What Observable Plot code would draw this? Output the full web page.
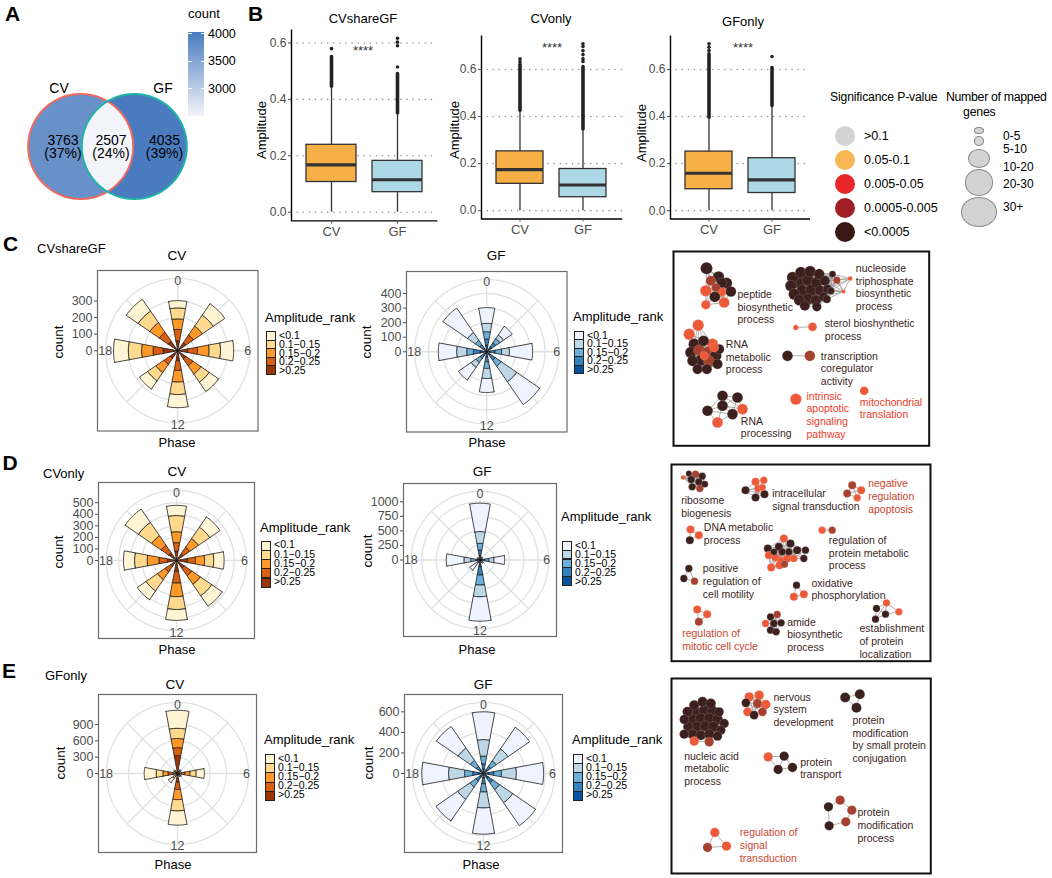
<!DOCTYPE html>
<html><head><meta charset="utf-8">
<script src="https://cdn.jsdelivr.net/npm/d3@7"></script>
<script src="https://cdn.jsdelivr.net/npm/@observablehq/plot@0.6"></script>
<style>
body{margin:0;background:#fff;}
#fig{position:relative;width:1052px;height:878px;overflow:hidden;font-family:"Liberation Sans",Arial,Helvetica,sans-serif;color:#000;background:#fff;}
.t{position:absolute;white-space:nowrap;line-height:1;}
</style></head><body><div id="fig"></div>
<script>
// ================= DATA =================
// Panel A (Venn)
const vennSets = ["CV", "GF"];
const vennCounts = [3763, 2507, 4035];          // CV only, shared, GF only
const vennPercents = ["(37%)", "(24%)", "(39%)"];
const countBarTicks = [3000, 3500, 4000];

// Panel B (boxplots of Amplitude)
const boxGroups = ["CV", "GF"];
const ampTicks = [0, 0.2, 0.4, 0.6];
const boxShare = [{group:"CV",lo:0,q1:0.107,med:0.168,q3:0.239,hi:0.44},{group:"GF",lo:0,q1:0.071,med:0.115,q3:0.182,hi:0.345}];
const boxShareDense = [{group:"CV",from:0.445,to:0.55},{group:"GF",from:0.35,to:0.49}];
const boxShareOut = [{group:"CV",v:0.58},{group:"GF",v:0.515},{group:"GF",v:0.59},{group:"GF",v:0.603},{group:"GF",v:0.617}];
const boxCVonly = [{group:"CV",lo:0,q1:0.114,med:0.174,q3:0.252,hi:0.42},{group:"GF",lo:0,q1:0.057,med:0.109,q3:0.177,hi:0.34}];
const boxCVonlyDense = [{group:"CV",from:0.425,to:0.62},{group:"GF",from:0.345,to:0.61}];
const boxCVonlyOut = [{group:"CV",v:0.633},{group:"CV",v:0.645},{group:"GF",v:0.634},{group:"GF",v:0.645},{group:"GF",v:0.663},{group:"GF",v:0.68},{group:"GF",v:0.698},{group:"GF",v:0.709}];
const boxGFonly = [{group:"CV",lo:0,q1:0.091,med:0.159,q3:0.251,hi:0.39},{group:"GF",lo:0,q1:0.075,med:0.131,q3:0.223,hi:0.44}];
const boxGFonlyDense = [{group:"CV",from:0.395,to:0.665},{group:"GF",from:0.445,to:0.606}];
const boxGFonlyOut = [{group:"CV",v:0.68},{group:"CV",v:0.695},{group:"CV",v:0.709},{group:"GF",v:0.655}];

// Rose charts: counts per phase (rows) and amplitude rank (inner -> outer)
const phases = [0, 3, 6, 9, 12, 15, 18, 21];
const ampRanks = [">0.25", "0.2\u22120.25", "0.15\u22120.2", "0.1\u22120.15", "<0.1"];
const roseC_CV = [[60,69,63,66,44],[60,55,65,80,84],[60,59,70,69,79],[60,50,60,60,68],[60,59,70,75,79],[55,45,60,60,60],[89,60,69,80,89],[70,65,70,85,87]];
const roseC_GF = [[46,41,51,57,108],[40,35,35,30,72],[23,34,46,53,159],[30,40,50,130,191],[34,35,46,69,96],[25,30,35,40,106],[46,46,46,69,126],[30,30,35,65,204]];
const roseD_CV = [[82,73,94,140,88],[70,70,90,120,107],[96,68,79,79,90],[80,80,90,120,110],[94,102,117,111,94],[60,60,80,120,92],[79,73,102,109,96],[80,80,100,140,140]];
const roseD_GF = [[86,86,115,202,488],[10,10,10,10,20],[40,46,69,86,184],[10,10,10,15,25],[115,144,172,201,420],[15,15,20,20,145],[40,35,86,115,304],[10,10,10,10,15]];
const roseE_CV = [[331,144,169,187,331],[25,15,15,15,10],[75,62,94,113,150],[20,15,15,15,15],[156,138,187,207,262],[20,20,30,40,96],[81,94,94,125,218],[20,15,15,15,15]];
const roseE_GF = [[45,50,75,160,270],[40,45,65,140,255],[50,50,75,145,265],[55,55,80,155,270],[45,55,80,155,255],[40,50,70,145,255],[50,55,80,155,260],[40,45,70,145,255]];
const ticksC_CV = [0,100,200,300];
const ticksC_GF = [0,100,200,300,400];
const ticksD_CV = [0,100,200,300,400,500];
const ticksD_GF = [0,250,500,750,1000];
const ticksE_CV = [0,300,600,900];
const ticksE_GF = [0,200,400,600];
const thetaTicks = [0, 6, 12, 18];

// Significance legend
const sigLevels = [">0.1", "0.05-0.1", "0.005-0.05", "0.0005-0.005", "<0.0005"];
const sigColors = ["#D3D3D3", "#F8B655", "#E8262A", "#A01F24", "#3A1614"];
const sizeLevels = ["0-5", "5-10", "10-20", "20-30", "30+"];

// Networks: nodes [x, y, diameter, p-class] in layout units, grouped by cluster
const netC = [
 [[137,82,36,"n"],[173,108,34,"n"],[197,127,34,"n"],[210,152,32,"n"],[150,120,30,"m"],[183,126,30,"n"],[135,150,34,"r"],[180,152,32,"r"],[162,168,32,"n"],[190,185,32,"r"],[135,192,28,"r"],[165,140,26,"m"]],
 [[395,110,34,"n"],[420,95,34,"n"],[448,92,34,"n"],[475,100,32,"n"],[390,135,34,"n"],[415,125,36,"n"],[442,118,36,"n"],[468,125,34,"n"],[492,120,30,"n"],[400,160,34,"n"],[425,150,36,"n"],[452,148,36,"n"],[478,150,32,"n"],[500,145,28,"n"],[415,178,32,"n"],[440,175,34,"n"],[465,178,32,"n"],[488,168,28,"n"],[432,195,30,"n"],[468,198,28,"n"],[510,150,22,"n"],[515,100,20,"n"],[528,118,22,"m"],[568,113,14,"r"],[548,152,12,"r"],[498,175,24,"n"]],
 [[405,260,16,"r"],[455,258,26,"r"]],
 [[380,345,32,"n"],[447,345,32,"m"]],
 [[112,253,34,"r"],[85,280,34,"r"],[100,310,34,"n"],[128,300,32,"n"],[155,310,34,"r"],[175,325,30,"n"],[90,335,34,"n"],[115,328,34,"m"],[140,335,34,"m"],[165,345,34,"n"],[95,360,32,"n"],[120,358,34,"n"],[145,362,34,"m"],[170,370,30,"n"],[110,385,30,"n"],[138,385,30,"n"],[160,320,28,"r"],[130,345,26,"r"]],
 [[185,465,32,"n"],[230,470,32,"n"],[185,495,32,"n"],[140,510,32,"n"],[215,520,32,"n"],[245,505,32,"r"],[170,545,32,"r"]],
 [[405,475,34,"r"]],
 [[610,450,26,"r"]]
];
const netC_labels = [
 [230,160,"peptide\nbiosynthetic\nprocess","d"],
 [585,82,"nucleoside\ntriphosphate\nbiosynthetic\nprocess","d"],
 [492,248,"sterol bioshynthetic\nprocess","d"],
 [195,310,"RNA\nmetabolic\nprocess","d"],
 [480,345,"transcription\ncoregulator\nactivity","d"],
 [240,540,"RNA\nprocessing","d"],
 [437,465,"intrinsic\napoptotic\nsignaling\npathway","r"],
 [597,483,"mitochondrial\ntranslation","r"]
];
const netD = [
 [[68,82,14,"r"],[85,70,18,"n"],[105,72,22,"m"],[125,78,22,"n"],[92,88,22,"n"],[115,95,22,"n"],[133,102,20,"n"],[95,110,22,"n"],[118,115,22,"m"]],
 [[255,120,24,"n"],[285,95,24,"r"],[310,90,22,"r"],[292,115,22,"r"],[306,112,20,"r"],[312,132,24,"n"],[285,142,24,"n"]],
 [[575,105,24,"m"],[560,130,24,"m"],[602,120,24,"r"],[590,143,22,"r"]],
 [[90,238,24,"r"],[115,255,24,"r"],[88,270,24,"n"]],
 [[485,240,22,"r"],[515,240,22,"m"]],
 [[370,265,24,"r"],[322,295,24,"n"],[355,290,24,"n"],[390,280,24,"n"],[410,300,24,"n"],[435,300,22,"n"],[430,325,22,"n"],[325,315,24,"r"],[345,322,24,"r"],[362,332,24,"r"],[380,325,24,"r"],[400,325,22,"r"],[332,352,24,"r"],[357,345,24,"r"],[372,342,22,"m"],[385,305,22,"n"],[365,305,22,"n"],[340,305,20,"n"]],
 [[85,355,22,"n"],[70,385,22,"n"],[102,393,22,"m"]],
 [[408,405,22,"n"],[400,440,24,"r"],[430,432,24,"r"]],
 [[110,478,24,"r"],[140,492,24,"r"],[115,515,24,"m"]],
 [[330,500,22,"n"],[350,493,22,"m"],[315,520,22,"r"],[340,520,22,"n"],[362,518,22,"n"],[330,540,22,"n"],[347,545,22,"n"]],
 [[648,475,22,"n"],[678,458,22,"r"],[675,492,22,"n"],[715,485,22,"r"],[645,507,22,"n"]]
];
const netD_labels = [
 [62,150,"ribosome\nbiogenesis","d"],
 [335,130,"intracellular\nsignal transduction","d"],
 [623,100,"negative\nregulation\napoptosis","r"],
 [130,232,"DNA metabolic\nprocess","d"],
 [505,270,"regulation of\nprotein metabolic\nprocess","d"],
 [127,355,"positive\nregulation of\ncell motility","d"],
 [453,398,"oxidative\nphosphorylation","d"],
 [65,550,"regulation of\nmitotic cell cycle","r"],
 [380,515,"amide\nbiosynthetic\nprocess","d"],
 [597,535,"establishment\nof protein\nlocalization","d"]
];
const netE = [
 [[100,135,30,"n"],[125,125,30,"n"],[150,130,30,"n"],[80,155,30,"n"],[105,155,32,"n"],[130,150,32,"n"],[155,152,32,"n"],[175,155,28,"n"],[70,178,28,"n"],[95,178,32,"n"],[120,175,32,"n"],[145,175,32,"n"],[170,178,32,"n"],[190,190,28,"n"],[82,200,30,"n"],[108,200,32,"n"],[133,198,32,"n"],[158,200,32,"n"],[180,210,28,"n"],[70,222,28,"n"],[95,222,30,"n"],[120,225,30,"n"],[145,222,30,"n"],[170,228,28,"n"],[100,243,28,"r"],[145,245,28,"m"]],
 [[265,110,28,"r"],[295,105,28,"r"],[255,128,26,"n"],[290,130,28,"m"],[315,133,28,"r"],[260,155,26,"r"],[280,165,26,"n"],[305,155,26,"m"]],
 [[553,112,30,"n"],[597,102,30,"n"],[587,143,30,"n"]],
 [[322,290,28,"r"],[370,288,28,"n"],[352,328,28,"n"],[395,322,28,"n"]],
 [[503,440,28,"n"],[538,420,28,"m"],[573,450,28,"m"],[555,485,28,"m"],[505,497,28,"n"]],
 [[162,517,28,"r"],[140,562,28,"m"],[197,558,28,"r"]]
];
const netE_labels = [
 [70,287,"nucleic acid\nmetabolic\nprocess","d"],
 [338,110,"nervous\nsystem\ndevelopment","d"],
 [575,180,"protein\nmodification\nby small protein\nconjugation","d"],
 [418,305,"protein\ntransport","d"],
 [590,457,"protein\nmodification\nprocess","d"],
 [237,517,"regulation of\nsignal\ntransduction","r"]
];

// ================= STYLE =================
const orangePal = ["#993404","#D95F0E","#FE9929","#FED98E","#FFF5D4"]; // inner(>0.25) -> outer(<0.1)
const bluePal = ["#08519C","#3182BD","#6BAED6","#BDD7E7","#EFF3FF"];
const nodeColor = {n:"#3C201E", m:"#A5412F", r:"#EC5A3A"};
const style = {fontFamily:'"Liberation Sans", Arial, Helvetica, sans-serif', fontSize:"12px", background:"transparent", overflow:"visible", color:"#000"};

const fig = document.getElementById("fig");
function place(node, x, y){ const d=document.createElement("div"); d.style.cssText=`position:absolute;left:${x}px;top:${y}px;`; d.appendChild(node); fig.appendChild(d); }
const later = [];
function txt(s, x, y, o={}){
  later.push(()=>{
    const d=document.createElement("div"); d.className="t"; d.textContent=s;
    d.style.fontSize=(o.size||13)+"px"; if(o.weight) d.style.fontWeight=o.weight;
    if(o.ls) d.style.letterSpacing=o.ls+"px";
    if(o.lh) d.style.lineHeight=o.lh+"px";
    d.style.color=o.color||"#000"; d.style.left=x+"px"; d.style.top=y+"px";
    const ax=o.anchor==="start"?"0%":o.anchor==="end"?"-100%":"-50%";
    d.style.transform=`translate(${ax},-50%)`+(o.rotate?` rotate(${o.rotate}deg)`:"");
    fig.appendChild(d);
  });
}
function rect(x,y,w,h,css){ later.push(()=>{const d=document.createElement("div"); d.style.cssText=`position:absolute;left:${x}px;top:${y}px;width:${w}px;height:${h}px;box-sizing:border-box;`+css; fig.appendChild(d);}); }

// ================= PANEL A: Venn =================
{
  const vennR = 1, vennSep = 1.02;
  const cL = -vennSep/2, cR = vennSep/2, alpha = Math.acos((vennSep/2)/vennR);
  const circ = (cx, v, id) => d3.range(0,181).map(k=>{const a=k/180*2*Math.PI; return {id, v, x:cx+vennR*Math.cos(a), y:vennR*Math.sin(a)};});
  const lens = [];
  d3.range(0,61).forEach(k=>{const a=-alpha+2*alpha*k/60; lens.push({id:"lens", v:vennCounts[1], x:cL+Math.cos(a), y:Math.sin(a)});});
  d3.range(0,61).forEach(k=>{const a=Math.PI-alpha+2*alpha*k/60; lens.push({id:"lens", v:vennCounts[1], x:cR+Math.cos(a), y:Math.sin(a)});});
  const left = circ(cL, vennCounts[0], "L"), right = circ(cR, vennCounts[2], "R");
  const W = 172, H = 120, unit = 52.5;
  const p = Plot.plot({
    width:W, height:H, margin:0,
    x:{domain:[-W/2/unit, W/2/unit], axis:null}, y:{domain:[-H/2/unit, H/2/unit], axis:null},
    color:{type:"linear", domain:[vennCounts[1], vennCounts[2]], range:["#F3F5FA","#4A7BBF"], interpolate:"rgb"},
    style,
    marks:[
      Plot.line([...left, ...right, ...lens], {x:"x", y:"y", z:"id", fill:"v", stroke:"none"}),
      Plot.line(left, {x:"x", y:"y", stroke:"#F0695C", strokeWidth:2}),
      Plot.line(right, {x:"x", y:"y", stroke:"#1DB3A6", strokeWidth:2})
    ]
  });
  place(p, 21, 86);
  txt("CV", 59, 88, {size:14}); txt("GF", 163, 88, {size:14});
  const tx = [63, 111, 164.5];
  vennCounts.forEach((c,i)=>{ txt(String(c), tx[i], 140, {size:14}); txt(vennPercents[i], tx[i], 153, {size:14}); });
  // colorbar
  const barTop = 32, barH = 84, barX = 188, barW = 16;
  const yb = d3.scaleLinear().domain([vennCounts[1], vennCounts[2]]).range([barTop+barH, barTop]);
  rect(barX, barTop, barW, barH, "background:linear-gradient(to top,#F3F5FA,#4A7BBF);");
  countBarTicks.forEach(t=>{
    rect(barX, yb(t)-0.5, 3.5, 1, "background:#fff;");
    rect(barX+barW-3.5, yb(t)-0.5, 3.5, 1, "background:#fff;");
    txt(String(t), barX+20, yb(t), {size:12.5, anchor:"start"});
  });
  txt("count", 188, 13, {size:13, anchor:"start"});
}

// ================= PANEL B: boxplots =================
function boxPlot(stats, dense, outs, pw, ph){
  const vals = [...stats.flatMap(d=>[d.lo,d.hi]), ...dense.map(d=>d.to), ...outs.map(d=>d.v)];
  const [lo, hi] = d3.extent(vals); const pad = 0.05*(hi-lo);
  const ml=30, mr=4, mt=4, mb=22;
  return Plot.plot({
    width:pw+ml+mr, height:ph+mt+mb, marginLeft:ml, marginRight:mr, marginTop:mt, marginBottom:mb,
    x:{type:"band", domain:boxGroups, paddingInner:0.25, paddingOuter:0.225},
    y:{domain:[lo-pad, hi+pad]},
    color:{domain:boxGroups, range:["#F6B046","#ADD8E6"]},
    style,
    marks:[
      Plot.gridY(ampTicks, {stroke:"#9a9a9a", strokeOpacity:1, strokeWidth:1.6, strokeDasharray:"0.1,6", strokeLinecap:"round"}),
      Plot.frame({stroke:"#000", strokeWidth:1.4, strokeDasharray:`0,${pw+ph},${pw+ph}`}),
      Plot.ruleX(stats, {x:"group", y1:"lo", y2:"hi", stroke:"#333", strokeWidth:1.3}),
      Plot.barY(stats, {x:"group", y1:"q1", y2:"q3", fill:"group", stroke:"#333", strokeWidth:1.3}),
      Plot.tickY(stats, {x:"group", y:"med", stroke:"#333", strokeWidth:3.2}),
      Plot.ruleX(dense, {x:"group", y1:"from", y2:"to", stroke:"#222", strokeWidth:3.6, strokeLinecap:"round"}),
      Plot.dot(outs, {x:"group", y:"v", r:1.8, fill:"#222"}),
      Plot.axisY(ampTicks, {tickSize:3, tickPadding:2, fontSize:12, tickFormat:d3.format(".1f"), label:null, color:"#4D4D4D"}),
      Plot.axisX({tickSize:3, tickPadding:3, fontSize:13, label:null, color:"#4D4D4D"})
    ]
  });
}
place(boxPlot(boxShare, boxShareDense, boxShareOut, 146, 191.4), 291-30, 29.3-4);
place(boxPlot(boxCVonly, boxCVonlyDense, boxCVonlyOut, 140.7, 183.5), 481-30, 34.8-4);
place(boxPlot(boxGFonly, boxGFonlyDense, boxGFonlyOut, 139.5, 183.5), 670-30, 34.8-4);
txt("CVshareGF", 363, 18, {size:13}); txt("CVonly", 551, 18, {size:13}); txt("GFonly", 743, 21, {size:13});
txt("****", 363, 50, {size:13, color:"#333"}); txt("****", 552, 47, {size:13, color:"#333"}); txt("****", 743, 47, {size:13, color:"#333"});
txt("Amplitude", 261, 130, {size:13, rotate:-90}); txt("Amplitude", 454, 130, {size:13, rotate:-90}); txt("Amplitude", 641, 133, {size:13, rotate:-90});

// Significance / size legend
txt("Significance P-value", 830, 97, {size:12.2, anchor:"start", ls:-0.15});
txt("Number of mapped", 946, 97, {size:12.3, anchor:"start", ls:-0.3});
txt("genes", 963, 111.5, {size:12.3, anchor:"start", ls:-0.2});
const sigY = [136, 160, 183.5, 207.5, 231.5];
sigLevels.forEach((s,i)=>{ rect(835, sigY[i]-10, 20, 20, `border-radius:50%;background:${sigColors[i]};`); txt(s, 864, sigY[i], {size:12.5, anchor:"start"}); });
const sizeEll = [[130.7,4.7,3.7],[141,5.3,4.7],[158.3,10.7,9.3],[182.7,14.3,13.3],[211.7,18.3,15]];
sizeEll.forEach(([cy,rx,ry])=>rect(979-rx, cy-ry, 2*rx, 2*ry, "border-radius:50%;background:#D3D3D3;border:0.8px solid #8a8a8a;"));
const sizeLY = [136, 149.3, 166.7, 184.3, 206.7];
sizeLevels.forEach((s,i)=>txt(s, 1003, sizeLY[i], {size:12, anchor:"start", lh:11}));

// ================= ROSE CHARTS =================
function rosePlot(rows, ticks, pal, size){
  const R = d3.max(rows, r=>d3.sum(r));
  const E = 1.25*R, hw = 0.7;
  const polys = [];
  rows.forEach((segs,i)=>{
    let r0 = 0;
    segs.forEach((c,j)=>{
      const r1 = r0+c, id = i*10+j, n = 12;
      const a0 = (phases[i]-hw)/24*2*Math.PI, a1 = (phases[i]+hw)/24*2*Math.PI;
      const ring = [];
      for(let k=0;k<=n;k++){const a=a0+(a1-a0)*k/n; ring.push({id, rank:ampRanks[j], x:r1*Math.sin(a), y:r1*Math.cos(a)});}
      for(let k=n;k>=0;k--){const a=a0+(a1-a0)*k/n; ring.push({id, rank:ampRanks[j], x:r0*Math.sin(a), y:r0*Math.cos(a)});}
      ring.push({...ring[0]});
      polys.push(...ring);
      r0 = r1;
    });
  });
  const gridR = ticks.filter(t=>t>0).concat([1.125*R]);
  const circ = gridR.flatMap((r,gi)=>d3.range(0,121).map(k=>({gi, x:r*Math.sin(k/120*2*Math.PI), y:r*Math.cos(k/120*2*Math.PI)})));
  const spokes = phases.map(p=>({x:1.125*R*Math.sin(p/24*2*Math.PI), y:1.125*R*Math.cos(p/24*2*Math.PI)}));
  const thetaFrac = [0.432, 0.436, 0.462, 0.452];
  return Plot.plot({
    width:size+42, height:size+4, marginLeft:40, marginRight:2, marginTop:2, marginBottom:2,
    x:{domain:[-E,E], axis:null}, y:{domain:[-E,E]},
    color:{domain:ampRanks, range:pal},
    style,
    marks:[
      Plot.line(circ, {x:"x", y:"y", z:"gi", stroke:"#E1E1E1", strokeWidth:1.3}),
      Plot.link(spokes, {x1:()=>0, y1:()=>0, x2:"x", y2:"y", stroke:"#E1E1E1", strokeWidth:1.3}),
      Plot.line(polys, {x:"x", y:"y", z:"id", fill:"rank", stroke:"#1a1a1a", strokeWidth:0.8, strokeLinejoin:"miter"}),
      Plot.text(thetaTicks, {x:(p,i)=>thetaFrac[i]*2*E*Math.sin(p/24*2*Math.PI), y:(p,i)=>thetaFrac[i]*2*E*Math.cos(p/24*2*Math.PI), text:p=>String(p), fontSize:12.5, fill:"#4D4D4D"}),
      Plot.frame({stroke:"#6b6b6b", strokeWidth:1.2}),
      Plot.axisY(ticks, {anchor:"left", tickSize:3, tickPadding:2, fontSize:12.5, tickFormat:d=>String(d), label:null, color:"#4D4D4D"})
    ]
  });
}
const roseSpecs = [
  {rows:roseC_CV, ticks:ticksC_CV, pal:orangePal, left:97,    top:270,   size:160.5, title:"CV", tx:177, ty:256, cx:59,  cy:342, px:177, py:442, lx:265, ly:317, kt:331,   kh:8.6},
  {rows:roseC_GF, ticks:ticksC_GF, pal:bluePal,   left:406,   top:270.5, size:160.5, title:"GF", tx:496, ty:256, cx:367, cy:342, px:487, py:442, lx:573, ly:316, kt:330.7, kh:8.5},
  {rows:roseD_CV, ticks:ticksD_CV, pal:orangePal, left:97.5,  top:481.5, size:156,   title:"CV", tx:177, ty:472, cx:59,  cy:552, px:177, py:648.5, lx:260, ly:527, kt:540.7, kh:9.2},
  {rows:roseD_GF, ticks:ticksD_GF, pal:bluePal,   left:403.3, top:482.7, size:153,   title:"GF", tx:482, ty:472, cx:368, cy:551, px:477, py:648.5, lx:561, ly:516, kt:540.7, kh:8.9},
  {rows:roseE_CV, ticks:ticksE_CV, pal:orangePal, left:97.5,  top:693.5, size:158,   title:"CV", tx:175, ty:685, cx:61,  cy:763, px:173, py:864, lx:264, ly:739, kt:754,   kh:9.2},
  {rows:roseE_GF, ticks:ticksE_GF, pal:bluePal,   left:404,   top:693.5, size:158,   title:"GF", tx:483, ty:685, cx:369, cy:763, px:481, py:864, lx:572, ly:739, kt:754,   kh:9.2}
];
roseSpecs.forEach(s=>{
  place(rosePlot(s.rows, s.ticks, s.pal, s.size), s.left-40, s.top-2);
  txt(s.title, s.tx, s.ty, {size:13.5});
  txt("count", s.cx, s.cy, {size:13.5, rotate:-90});
  txt("Phase", s.px, s.py, {size:13});
  txt("Amplitude_rank", s.lx, s.ly, {size:13, anchor:"start"});
  for(let i=0;i<5;i++){
    const j = 4-i; // outer (<0.1) on top
    rect(s.lx+1, s.kt+i*s.kh, 10, s.kh+1, `background:${s.pal[j]};border:1px solid #222;`);
    txt(ampRanks[j], s.lx+14, s.kt+(i+0.5)*s.kh, {size:10.5, anchor:"start", lh:s.kh});
  }
});

// ================= NETWORKS =================
function netPlot(clusters, labels, xdom, ydom, w, h, thr, redText){
  const nodes = clusters.flatMap((cl,g)=>cl.map(([x,y,d,c])=>({x,y,d,c,g})));
  const edges = [];
  for(let i=0;i<nodes.length;i++) for(let j=i+1;j<nodes.length;j++){
    const a=nodes[i], b=nodes[j];
    if(a.g===b.g && Math.hypot(a.x-b.x, a.y-b.y) < thr) edges.push({x1:a.x,y1:a.y,x2:b.x,y2:b.y});
  }
  return Plot.plot({
    width:w, height:h, margin:0,
    x:{domain:xdom, axis:null}, y:{domain:ydom, reverse:true, axis:null},
    r:{type:"linear", domain:[0,36], range:[0,6]},
    color:{type:"identity"},
    style,
    marks:[
      Plot.link(edges, {x1:"x1", y1:"y1", x2:"x2", y2:"y2", stroke:"#9c9c9c", strokeWidth:0.8}),
      Plot.dot(nodes, {x:"x", y:"y", r:"d", fill:d=>nodeColor[d.c], stroke:"rgba(255,255,255,0.3)", strokeWidth:0.5}),
      Plot.text(labels, {x:d=>d[0], y:d=>d[1], text:d=>d[2], fill:d=>d[3]==="r"?redText:"#3A2624", textAnchor:"start", lineAnchor:"top", dy:-5, fontSize:10.5, lineHeight:1.2}),
      Plot.frame({stroke:"#111", strokeWidth:2})
    ]
  });
}
place(netPlot(netC, netC_labels, [38,805], [32,615], 255.7, 194.3, 80, "#EC3A2A"), 672.7, 250.7);
place(netPlot(netD, netD_labels, [33,810], [43,633], 259, 196.7, 60, "#C8432D"), 671, 464.3);
place(netPlot(netE, netE_labels, [32,810], [55,640], 259.3, 195, 60, "#CC4632"), 670.7, 678.3);

// ================= PANEL LETTERS / SUBTITLES =================
txt("A", 12.5, 12.5, {size:21, weight:"bold"});
txt("B", 255.5, 12.5, {size:21, weight:"bold"});
txt("C", 10.5, 242.5, {size:21, weight:"bold"});
txt("D", 10, 462, {size:21, weight:"bold"});
txt("E", 9, 669.5, {size:21, weight:"bold"});
txt("CVshareGF", 37, 248, {size:13, anchor:"start"});
txt("CVonly", 43, 473, {size:13, anchor:"start"});
txt("GFonly", 45, 675, {size:13, anchor:"start"});

later.forEach(f=>f());
</script></body></html>
